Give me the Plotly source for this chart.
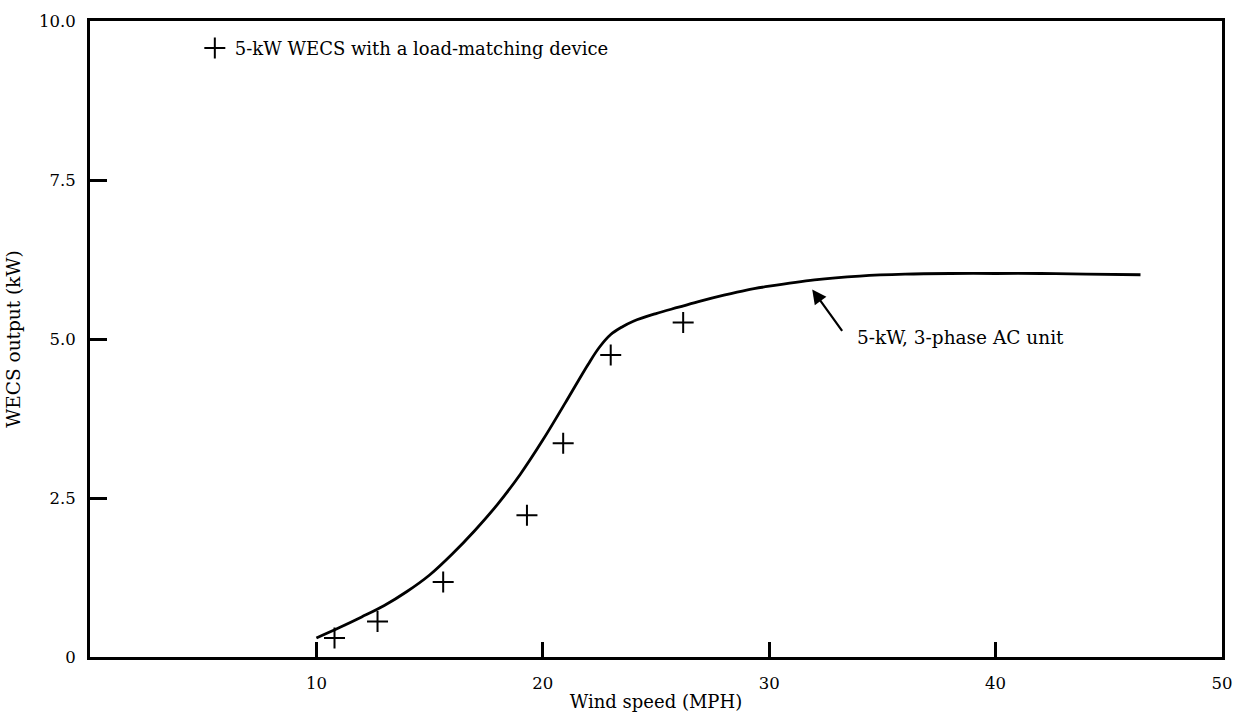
import plotly.graph_objects as go

# Power curve of the 5-kW, 3-phase AC unit (wind speed in MPH, output in kW)
curve_speed = [10, 11, 12, 13, 14, 15, 16, 17, 18, 19, 20, 21, 22, 22.5, 23, 23.5,
               24, 25, 26, 27, 28, 29, 30, 32, 34, 36, 38, 40, 42, 44, 46.4]
curve_output = [0.30, 0.46, 0.63, 0.81, 1.03, 1.29, 1.62, 1.99, 2.40, 2.87, 3.41, 4.00,
                4.60, 4.87, 5.07, 5.19, 5.28, 5.40, 5.50, 5.60, 5.69, 5.77, 5.83, 5.93,
                5.99, 6.02, 6.03, 6.03, 6.03, 6.02, 6.01]

# Measured points: 5-kW WECS with a load-matching device
meas_speed = [10.8, 12.7, 15.6, 19.3, 20.9, 23.0, 26.2]
meas_output = [0.30, 0.56, 1.18, 2.23, 3.36, 4.75, 5.26]

x_ticks = [10, 20, 30, 40, 50]
x_tick_text = ["10", "20", "30", "40", "50"]
y_ticks = [0, 2.5, 5.0, 7.5, 10.0]
y_tick_text = ["0", "2.5", "5.0", "7.5", "10.0"]

FONT = "DejaVu Serif"

fig = go.Figure()

fig.add_trace(go.Scatter(
    x=curve_speed, y=curve_output, mode="lines",
    line=dict(color="black", width=2.8, shape="spline", smoothing=1.0),
    showlegend=False, hoverinfo="skip",
))

fig.add_trace(go.Scatter(
    x=meas_speed, y=meas_output, mode="markers",
    name="5-kW WECS with a load-matching device",
    marker=dict(symbol="cross-thin", size=15, color="black",
                line=dict(color="black", width=2)),
))

# Arrow pointing at the curve, with its label
fig.add_annotation(
    x=31.9, y=5.78, xref="x", yref="y", text="",
    showarrow=True, ax=31, ay=43, axref="pixel", ayref="pixel",
    arrowhead=2, arrowsize=1.3, arrowwidth=2.2, arrowcolor="black",
)
fig.add_annotation(
    x=33.8, y=5.02, xref="x", yref="y", text="5-kW, 3-phase AC unit",
    showarrow=False, xanchor="left", yanchor="middle",
    font=dict(family=FONT, size=18.5, color="black"),
)

fig.update_layout(
    width=1249, height=721,
    margin=dict(l=88, r=27, t=14, b=63),
    paper_bgcolor="white", plot_bgcolor="white",
    font=dict(family=FONT, size=17, color="black"),
    showlegend=True,
    legend=dict(x=0.0926, y=0.986, xanchor="left", yanchor="top",
                bgcolor="rgba(0,0,0,0)", borderwidth=0,
                font=dict(family=FONT, size=18, color="black")),
    xaxis=dict(
        range=[0, 50], tickvals=x_ticks, ticktext=x_tick_text,
        showgrid=False, zeroline=False,
        showline=True, linecolor="black", linewidth=2.8, mirror=True,
        ticks="inside", ticklen=15, tickwidth=3, tickcolor="black",
        ticklabelstandoff=9,
        tickfont=dict(family=FONT, size=16.5),
        title=dict(text="Wind speed (MPH)", standoff=4,
                   font=dict(family=FONT, size=18)),
    ),
    yaxis=dict(
        range=[0, 10], tickvals=y_ticks, ticktext=y_tick_text,
        showgrid=False, zeroline=False,
        showline=True, linecolor="black", linewidth=2.8, mirror=True,
        ticks="inside", ticklen=17, tickwidth=3, tickcolor="black",
        ticklabelstandoff=8,
        tickfont=dict(family=FONT, size=16.5),
        title=dict(text="WECS output (kW)", standoff=14,
                   font=dict(family=FONT, size=18.5)),
    ),
)

fig.write_html("out.html")
